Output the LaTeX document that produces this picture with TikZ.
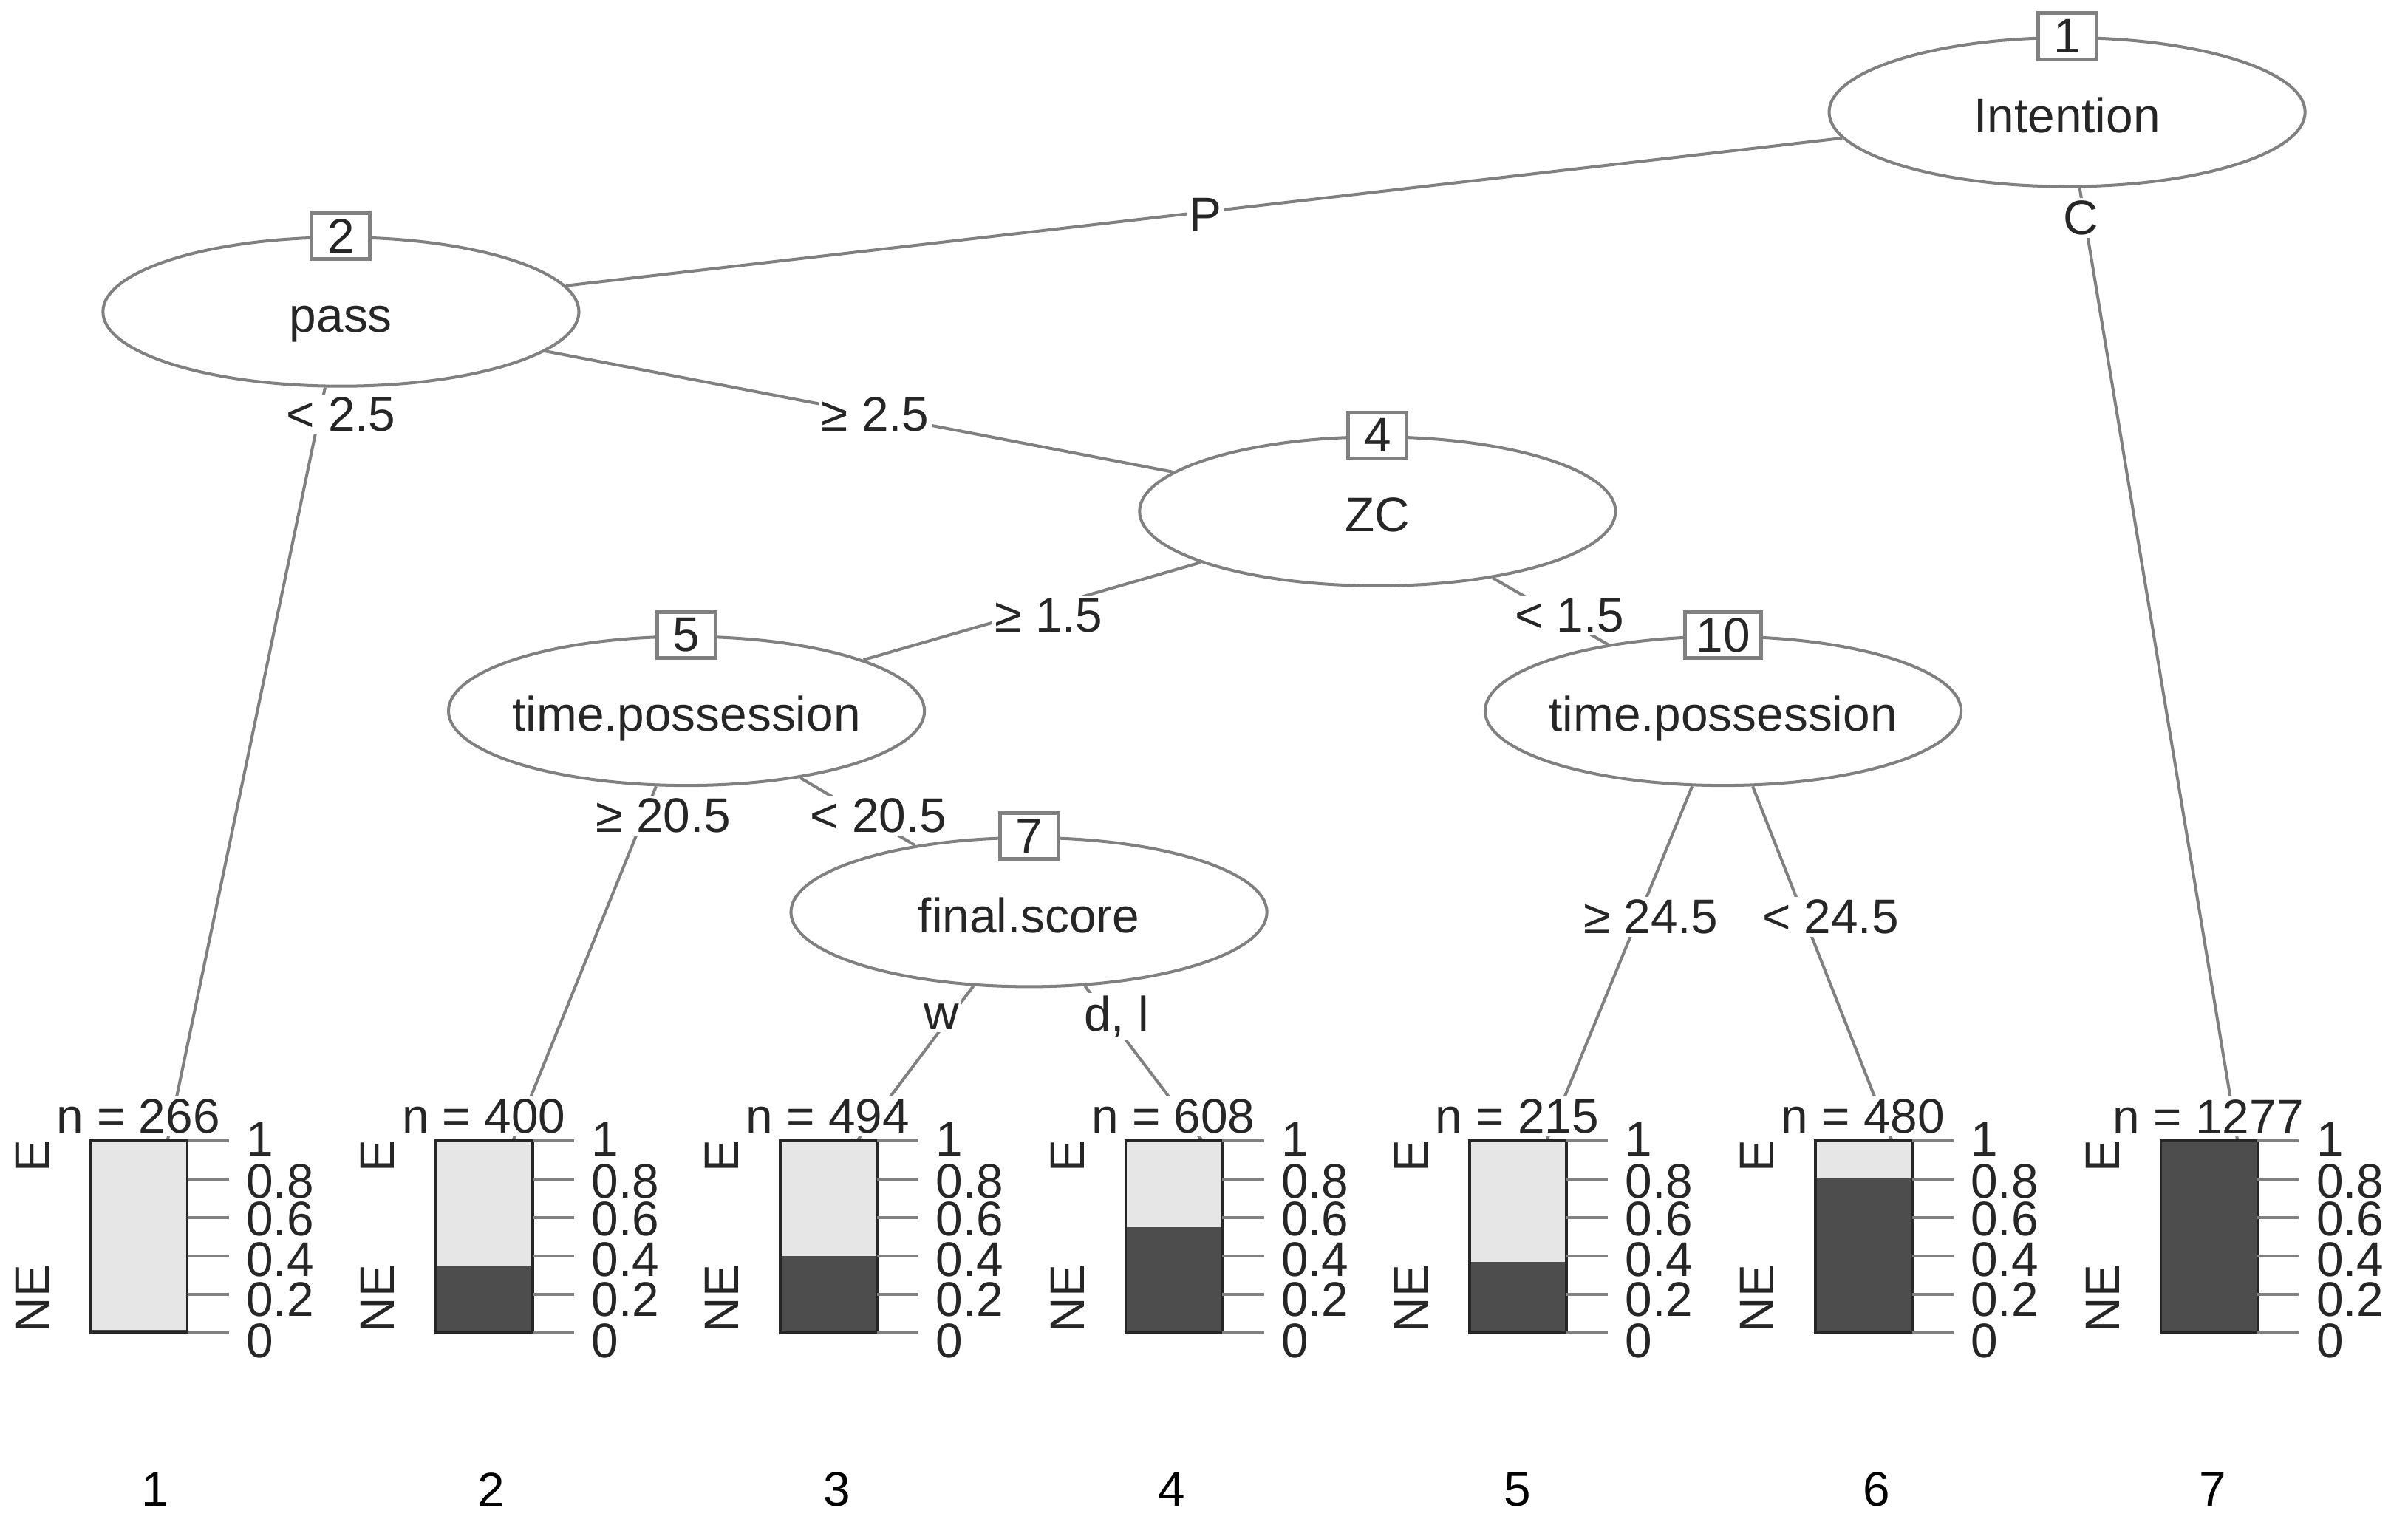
\documentclass[tikz,border=0pt]{standalone}
\usepackage{fontspec}
\setmainfont{Liberation Sans}
\usetikzlibrary{shapes.geometric}
\pgfdeclarelayer{bg}
\pgfsetlayers{bg,main}
\definecolor{linegray}{HTML}{808080}
\definecolor{textgray}{HTML}{262626}
\definecolor{lightfill}{HTML}{E6E6E6}
\definecolor{darkfill}{HTML}{4D4D4D}
\tikzset{
    every node/.style={text=textgray, font=\fontsize{18}{21}\selectfont},
    splitnode/.style={ellipse, draw=linegray, line width=1.1pt, minimum width=6.2cm, minimum height=1.94cm, inner xsep=-1.8cm, inner ysep=0mm, text height=15pt, text depth=0pt},
    idbox/.style={rectangle, draw=linegray, line width=1.4pt, fill=white, minimum width=0.76cm, minimum height=0.6cm, inner xsep=4pt, inner ysep=1pt},
    elabel/.style={fill=white, inner sep=1pt},
    link/.style={draw=linegray, line width=1.1pt},
    axtick/.style={draw=linegray, line width=1.1pt},
    barframe/.style={draw=textgray, line width=1pt},
    ticklabel/.style={anchor=west, inner sep=0pt, text height=9pt, text depth=0pt},
    catlabel/.style={rotate=90, inner sep=0pt},
    nlabel/.style={fill=white, inner sep=1pt}
}
\newcommand{\leafpanel}[5]{%
    \coordinate (t#1) at ({#2+50}, 743);
    \fill[lightfill] (#2, 743) rectangle ({#2+63}, 868);
    \fill[darkfill] (#2, 868) rectangle ({#2+63}, {868-125*#3});
    \draw[barframe] (#2, 743) rectangle ({#2+63}, 868);
    \draw[axtick] ({#2+63}, 743) -- ({#2+90}, 743);
    \draw[axtick] ({#2+63}, 768) -- ({#2+90}, 768);
    \draw[axtick] ({#2+63}, 793) -- ({#2+90}, 793);
    \draw[axtick] ({#2+63}, 818) -- ({#2+90}, 818);
    \draw[axtick] ({#2+63}, 843) -- ({#2+90}, 843);
    \draw[axtick] ({#2+63}, 868) -- ({#2+90}, 868);
    \node[ticklabel] (k#1a) at ({#2+101}, 745) {1};
    \node[ticklabel] (k#1b) at ({#2+101}, 772) {0.8};
    \node[ticklabel] (k#1c) at ({#2+101}, 797) {0.6};
    \node[ticklabel] (k#1d) at ({#2+101}, 823) {0.4};
    \node[ticklabel] (k#1e) at ({#2+101}, 849) {0.2};
    \node[ticklabel] (k#1f) at ({#2+101}, 876) {0};
    \node[catlabel, anchor=east] (e#1) at ({#2-38}, 742) {E};
    \node[catlabel, anchor=west] (ne#1) at ({#2-38}, 868) {NE};
    \node[nlabel] (c#1) at ({#2+31}, 727) {n = #4};
    \node[text=black] (id#1) at (#5, 970) {#1};
}

\begin{document}
\begin{tikzpicture}[x=0.02cm, y=-0.02cm]
        \useasboundingbox (0, 0) rectangle (1568, 991);
        \node (v1) [splitnode] at (1346, 73) {Intention};
        \node (v2) [splitnode] at (222, 203) {pass};
        \node (v4) [splitnode] at (897, 333) {ZC};
        \node (v5) [splitnode] at (447, 463) {time.possession};
        \node (v7) [splitnode] at (670, 594) {final.score};
        \node (v10) [splitnode] at (1122, 463) {time.possession};
        \node (b1) [idbox] at (v1.north) {1};
        \node (b2) [idbox] at (v2.north) {2};
        \node (b4) [idbox] at (v4.north) {4};
        \node (b5) [idbox] at (v5.north) {5};
        \node (b7) [idbox] at (v7.north) {7};
        \node (b10) [idbox] at (v10.north) {10};
        \leafpanel{1}{59}{0.015}{266}{101}
        \leafpanel{2}{284}{0.35}{400}{320}
        \leafpanel{3}{508}{0.40}{494}{545}
        \leafpanel{4}{733}{0.55}{608}{763}
        \leafpanel{5}{957}{0.37}{215}{988}
        \leafpanel{6}{1182}{0.81}{480}{1222}
        \leafpanel{7}{1407}{1}{1277}{1441}
        \node (l12) [elabel] at (785, 140) {P};
        \node (l17) [elabel] at (1355, 142) {C};
        \node (l21) [elabel] at (222, 270) {< 2.5};
        \node (l24) [elabel] at (570, 270) {≥ 2.5};
        \node (l45) [elabel] at (683, 401) {≥ 1.5};
        \node (l410) [elabel] at (1022, 401) {< 1.5};
        \node (l52) [elabel] at (432, 531) {≥ 20.5};
        \node (l57) [elabel] at (572, 531) {< 20.5};
        \node (l73) [elabel] at (613, 662) {w};
        \node (l74) [elabel] at (727, 662) {d, l};
        \node (l105) [elabel] at (1075, 597) {≥ 24.5};
        \node (l106) [elabel] at (1192, 597) {< 24.5};
        \begin{pgfonlayer}{bg}
                \draw[link] (v1) -- (v2);
                \draw[link] (v1) -- (t7);
                \draw[link] (v2) -- (t1);
                \draw[link] (v2) -- (v4);
                \draw[link] (v4) -- (v5);
                \draw[link] (v4) -- (v10);
                \draw[link] (v5) -- (t2);
                \draw[link] (v5) -- (v7);
                \draw[link] (v7) -- (t3);
                \draw[link] (v7) -- (t4);
                \draw[link] (v10) -- (t5);
                \draw[link] (v10) -- (t6);
        \end{pgfonlayer}
\end{tikzpicture}
\end{document}
